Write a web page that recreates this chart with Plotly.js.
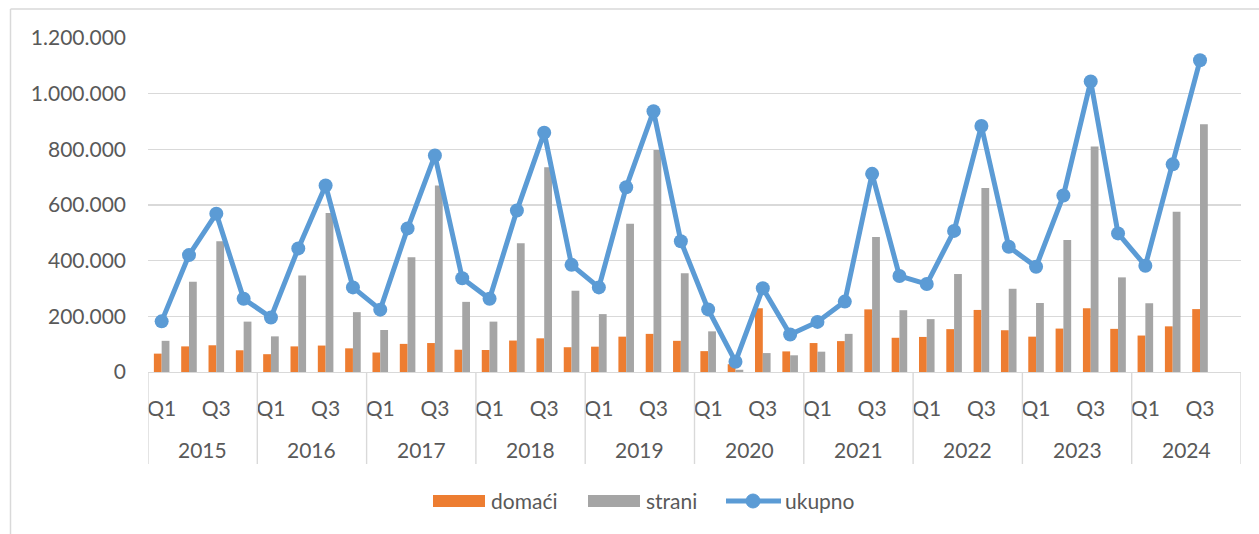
<!DOCTYPE html>
<html>
<head>
<meta charset="utf-8">
<script src="https://cdn.plot.ly/plotly-3.0.1.min.js"></script>
<style>html,body{margin:0;padding:0;background:#fff;}#chart{width:1259px;height:534px;}</style>
</head>
<body>
<div id="chart"></div>
<script>
const years = ['2015','2016','2017','2018','2019','2020','2021','2022','2023','2024'];
const quarters = ['Q1','Q2','Q3','Q4'];
const quarterLabels = ['Q1','','Q3',''];
const seriesNames = ['domaći','strani','ukupno'];
const domaci = [66000,92000,96000,78000, 64000,92000,95000,85000, 70000,101000,104000,80000, 79000,113000,121000,89000, 91000,127000,137000,112000, 75000,28000,229000,74000, 104000,111000,225000,123000, 126000,154000,223000,150000, 127000,156000,229000,155000, 131000,164000,226000];
const strani = [112000,324000,470000,181000, 128000,347000,571000,215000, 151000,412000,670000,252000, 181000,463000,736000,292000, 208000,533000,798000,355000, 146000,8000,68000,60000, 73000,137000,485000,222000, 190000,352000,661000,299000, 248000,474000,810000,340000, 247000,576000,890000];
const ukupno = [182000,420000,569000,263000, 196000,444000,670000,304000, 224000,516000,778000,337000, 263000,580000,860000,385000, 304000,664000,937000,470000, 225000,37000,301000,135000, 180000,253000,712000,345000, 316000,507000,884000,450000, 378000,634000,1044000,498000, 382000,746000,1120000];

const colors = {domaci:'#ED7D31', strani:'#A5A5A5', ukupno:'#5B9BD5'};
const textColor = '#595959';
const gridColor = '#D9D9D9';
const fontFamily = 'Lato, "Open Sans", sans-serif';
const fs = 21;

const nCats = years.length * quarters.length;
const xs = ukupno.map((_, i) => i);

const tickvals = [], ticktext = [];
years.forEach((y, yi) => quarterLabels.forEach((q, qi) => { if (q) { tickvals.push(yi*4+qi); ticktext.push(q); } }));

// pixel-to-paper helpers (plot area: x 148..1241, y 38..372)
const L = 148, R = 1241, T = 38, B = 372;
const px = p => (p - L) / (R - L);
const py = p => (B - p) / (B - T);

const shapes = [];
const annotations = [];
for (let k = 0; k <= years.length; k++) {
  shapes.push({type:'line', xref:'x', yref:'paper', x0:k*4-0.5, x1:k*4-0.5, y0:0, y1:py(464), line:{color:gridColor, width:1.4}});
}
years.forEach((y, yi) => {
  annotations.push({text:y, xref:'x', yref:'paper', x:yi*4+1.5, y:py(449), xanchor:'center', yanchor:'middle', showarrow:false, font:{family:fontFamily, size:fs, color:textColor}});
});
// chart border (left & top)
shapes.push({type:'line', xref:'paper', yref:'paper', x0:px(10.5), x1:px(10.5), y0:py(9), y1:py(560), line:{color:gridColor, width:1.5}});
shapes.push({type:'line', xref:'paper', yref:'paper', x0:px(10.5), x1:px(1280), y0:py(9), y1:py(9), line:{color:gridColor, width:1.5}});

// manual legend
shapes.push({type:'rect', xref:'paper', yref:'paper', x0:px(433), x1:px(485), y0:py(507), y1:py(495), fillcolor:colors.domaci, line:{width:0}});
shapes.push({type:'rect', xref:'paper', yref:'paper', x0:px(588), x1:px(640), y0:py(507), y1:py(495), fillcolor:colors.strani, line:{width:0}});
shapes.push({type:'line', xref:'paper', yref:'paper', x0:px(726), x1:px(781), y0:py(501), y1:py(501), line:{color:colors.ukupno, width:5}});
shapes.push({type:'circle', xref:'paper', yref:'paper', x0:px(746), x1:px(760), y0:py(508), y1:py(494), fillcolor:colors.ukupno, line:{color:colors.ukupno, width:1}});
[[seriesNames[0],489],[seriesNames[1],644],[seriesNames[2],783]].forEach(([t,x]) => {
  annotations.push({text:t, xref:'paper', yref:'paper', x:px(x), y:py(501), xanchor:'left', yanchor:'middle', showarrow:false, font:{family:fontFamily, size:fs, color:textColor}});
});

const traces = [
  {type:'bar', name:seriesNames[0], x:xs, y:domaci, marker:{color:colors.domaci}},
  {type:'bar', name:seriesNames[1], x:xs, y:strani, marker:{color:colors.strani}},
  {type:'scatter', mode:'lines+markers', name:seriesNames[2], x:xs, y:ukupno, line:{color:colors.ukupno, width:5}, marker:{color:colors.ukupno, size:14}}
];

const layout = {
  width:1259, height:534,
  margin:{l:L, r:1259-R, t:T, b:534-B, pad:0},
  paper_bgcolor:'#fff', plot_bgcolor:'#fff',
  showlegend:false,
  separators:',.',
  barmode:'group', bargap:0.43, bargroupgap:0,
  font:{family:fontFamily, size:fs, color:textColor},
  xaxis:{range:[-0.5, nCats-0.5], tickvals:tickvals, ticktext:ticktext, showgrid:false, zeroline:false, showline:true, linecolor:gridColor, linewidth:1.4, ticks:'', ticklabelstandoff:17, tickfont:{family:fontFamily, size:fs, color:textColor}},
  yaxis:{range:[0,1200000], dtick:200000, tickformat:',d', showgrid:true, gridcolor:gridColor, gridwidth:1.4, zeroline:false, showline:false, ticks:'', ticklabelstandoff:21, tickfont:{family:fontFamily, size:fs, color:textColor}},
  shapes:shapes,
  annotations:annotations
};

Plotly.newPlot('chart', traces, layout, {staticPlot:true, displayModeBar:false});
</script>
</body>
</html>
